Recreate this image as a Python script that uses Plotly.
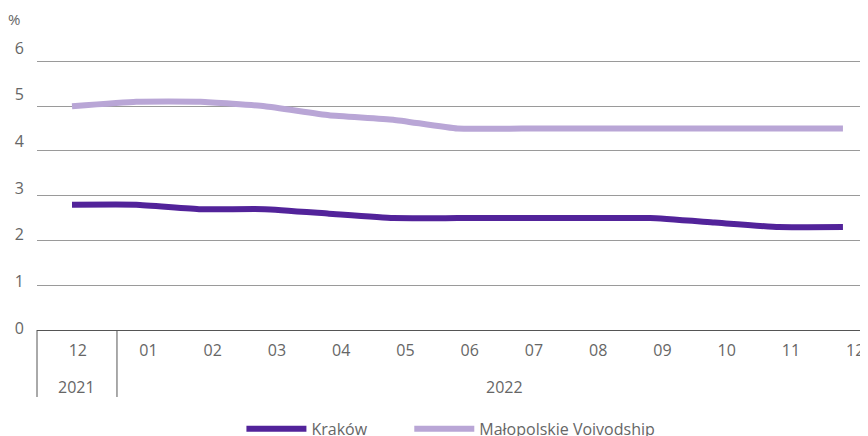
import plotly.graph_objects as go

# ---- data ----
months = ["12", "01", "02", "03", "04", "05", "06", "07", "08", "09", "10", "11", "12"]
years = ["2021", "2022"]
krakow = [2.8, 2.8, 2.7, 2.7, 2.6, 2.5, 2.5, 2.5, 2.5, 2.5, 2.4, 2.3, 2.3]
malopolskie = [5.0, 5.1, 5.1, 5.0, 4.8, 4.7, 4.5, 4.5, 4.5, 4.5, 4.5, 4.5, 4.5]
y_ticks = [0, 1, 2, 3, 4, 5, 6]

DARK = "#52239A"
LIGHT = "#B9A6D6"
GRAY_TXT = "#666666"
FONT = "Open Sans"
FS = 16

xs = list(range(len(months)))

fig = go.Figure()
fig.add_trace(go.Scatter(
    x=xs, y=krakow, name="Kraków", mode="lines", legend="legend",
    line=dict(color=DARK, width=6, shape="spline", smoothing=0.4),
))
fig.add_trace(go.Scatter(
    x=xs, y=malopolskie, name="Małopolskie Voivodship", mode="lines", legend="legend2",
    line=dict(color=LIGHT, width=6, shape="spline", smoothing=0.4),
))
# empty trace so the label-only y axis is drawn
fig.add_trace(go.Scatter(x=[], y=[], yaxis="y2", showlegend=False, hoverinfo="skip"))

# tick label positions (labels are centred in their cells, slightly right of points)
tickpos = [0.09] + [i + 0.19 for i in xs[1:]]

boundary = 0.70
year_centres = [(-0.545 + boundary) / 2, boundary + 12 * 1.005 / 2]

annotations = [
    dict(text="%", x=-0.028, y=1.072, xref="paper", yref="paper",
         showarrow=False, xanchor="center", yanchor="middle",
         font=dict(size=FS - 1, color=GRAY_TXT, family=FONT)),
]
for yr, xc in zip(years, year_centres):
    annotations.append(dict(
        text=yr, x=xc, y=-0.195, xref="x", yref="paper", showarrow=False,
        xanchor="center", yanchor="middle",
        font=dict(size=FS, color=GRAY_TXT, family=FONT)))

shapes = [
    dict(type="line", xref="paper", yref="paper", x0=0, x1=0, y0=0, y1=-0.231,
         line=dict(color="#555555", width=1)),
    dict(type="line", xref="x", yref="paper", x0=boundary, x1=boundary, y0=0, y1=-0.231,
         line=dict(color="#555555", width=1)),
]

legend_common = dict(orientation="h", xanchor="left", y=-0.341, yanchor="middle",
                     font=dict(size=FS, color=GRAY_TXT, family=FONT), itemwidth=60,
                     bgcolor="rgba(0,0,0,0)")

# page body has an 8px margin, so the figure is laid out 8px smaller / shifted
fig.update_layout(
    width=860, height=428,
    margin=dict(l=29, r=0, t=32, b=106, autoexpand=False),
    paper_bgcolor="white", plot_bgcolor="white",
    font=dict(family=FONT, size=FS, color=GRAY_TXT),
    showlegend=True,
    legend=dict(x=0.246, **legend_common),
    legend2=dict(x=0.448, **legend_common),
    xaxis=dict(
        range=[-0.545, 12.39], tickmode="array", tickvals=tickpos, ticktext=months,
        showgrid=False, zeroline=False, showline=True, linecolor="#555555", linewidth=1,
        ticks="", ticklabelstandoff=6, automargin=False,
        tickfont=dict(size=FS, color=GRAY_TXT, family=FONT),
    ),
    yaxis=dict(
        range=[0, 6.48], tickmode="array", tickvals=y_ticks[1:],
        showgrid=True, gridcolor="#9a9a9a", gridwidth=1, zeroline=False,
        showticklabels=False, showline=False, automargin=False,
    ),
    yaxis2=dict(
        overlaying="y", side="left", range=[-0.043, 6.171],
        tickmode="array", tickvals=y_ticks, ticktext=[str(v) for v in y_ticks],
        showgrid=False, zeroline=False, showline=False, ticks="",
        ticklabelstandoff=12, automargin=False,
        tickfont=dict(size=FS, color=GRAY_TXT, family=FONT),
    ),
    annotations=annotations,
    shapes=shapes,
)

fig.write_html("out.html")
